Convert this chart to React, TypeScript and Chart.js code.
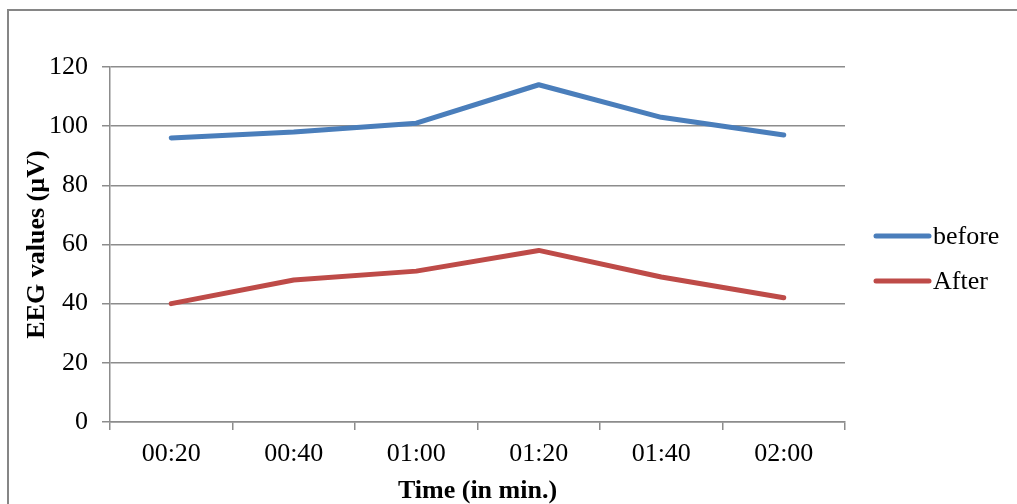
import React, { useEffect, useRef } from "react";
import { Chart, registerables } from "chart.js";

Chart.register(...registerables);

const categories = ["00:20", "00:40", "01:00", "01:20", "01:40", "02:00"];
const beforeValues = [96, 98, 101, 114, 103, 97];
const afterValues = [40, 48, 51, 58, 49, 42];
const seriesNames = ["before", "After"];
const seriesColors = ["#4A7EBB", "#BE4B48"];
const yMin = 0;
const yMax = 120;
const yStep = 20;
const xTitle = "Time (in min.)";
const yTitle = "EEG values (µV)";

const FONT = '"Liberation Serif", "Times New Roman", serif';
const GRID = "#8c8c8c";

const framePlugin = {
  id: "frame",
  beforeDraw(chart: any) {
    const ctx = chart.ctx;
    ctx.save();
    ctx.fillStyle = "#ffffff";
    ctx.fillRect(0, 0, chart.width, chart.height);
    ctx.strokeStyle = "#868686";
    ctx.lineWidth = 2;
    ctx.strokeRect(8, 10, 3000, 3000);
    ctx.restore();
  },
};

const sideLegendPlugin = {
  id: "sideLegend",
  afterDraw(chart: any) {
    const ctx = chart.ctx;
    const area = chart.chartArea;
    chart.data.datasets.forEach((ds: any, i: number) => {
      const y = 236 + i * 45;
      const x0 = area.right + 31;
      ctx.save();
      ctx.strokeStyle = ds.borderColor;
      ctx.lineWidth = 5;
      ctx.lineCap = "round";
      ctx.beginPath();
      ctx.moveTo(x0, y);
      ctx.lineTo(x0 + 53, y);
      ctx.stroke();
      ctx.fillStyle = "#000";
      ctx.font = `26px ${FONT}`;
      ctx.textBaseline = "middle";
      ctx.textAlign = "left";
      ctx.fillText(ds.label, x0 + 57, y + 1);
      ctx.restore();
    });
  },
};

export default function App() {
  const ref = useRef<HTMLCanvasElement | null>(null);

  useEffect(() => {
    if (!ref.current) return;
    const chart = new Chart(ref.current, {
      type: "line",
      data: {
        labels: categories,
        datasets: [
          {
            label: seriesNames[0],
            data: beforeValues,
            borderColor: seriesColors[0],
            backgroundColor: seriesColors[0],
            borderWidth: 5,
            borderCapStyle: "round",
            borderJoinStyle: "round",
            pointRadius: 0,
            tension: 0,
          },
          {
            label: seriesNames[1],
            data: afterValues,
            borderColor: seriesColors[1],
            backgroundColor: seriesColors[1],
            borderWidth: 5,
            borderCapStyle: "round",
            borderJoinStyle: "round",
            pointRadius: 0,
            tension: 0,
          },
        ],
      },
      options: {
        responsive: false,
        animation: false,
        devicePixelRatio: 1,
        layout: { padding: { top: 67, right: 172, left: 0, bottom: 0 } },
        plugins: {
          legend: { display: false },
          tooltip: { enabled: false },
        },
        scales: {
          x: {
            type: "category",
            offset: true,
            grid: {
              offset: true,
              drawOnChartArea: false,
              drawTicks: true,
              tickLength: 8,
              color: GRID,
              lineWidth: 1.5,
            },
            border: { display: true, color: GRID, width: 1.5 },
            ticks: {
              font: { family: FONT, size: 26 },
              color: "#000",
              padding: 9,
              maxRotation: 0,
              autoSkip: false,
            },
            title: {
              display: true,
              text: xTitle,
              font: { family: FONT, size: 26, weight: "bold" },
              color: "#000",
              padding: { top: 0, bottom: -3 },
            },
            afterFit(scale: any) {
              scale.height = 82;
            },
          },
          y: {
            min: yMin,
            max: yMax,
            ticks: {
              stepSize: yStep,
              padding: 14,
              font: { family: FONT, size: 26 },
              color: "#000",
            },
            grid: { color: GRID, lineWidth: 1.5, tickLength: 8 },
            border: { display: true, color: GRID, width: 1.5 },
            title: {
              display: true,
              text: yTitle,
              font: { family: FONT, size: 26, weight: "bold" },
              color: "#000",
              padding: { top: 22, bottom: 0 },
            },
            afterFit(scale: any) {
              scale.width = 110;
            },
          },
        },
      } as any,
      plugins: [framePlugin, sideLegendPlugin],
    });
    return () => chart.destroy();
  }, []);

  return (
    <div
      style={{
        position: "fixed",
        left: 0,
        top: 0,
        width: 1017,
        height: 504,
        overflow: "hidden",
        background: "#fff",
      }}
    >
      <canvas ref={ref} width={1017} height={504} style={{ width: 1017, height: 504, display: "block" }} />
    </div>
  );
}
